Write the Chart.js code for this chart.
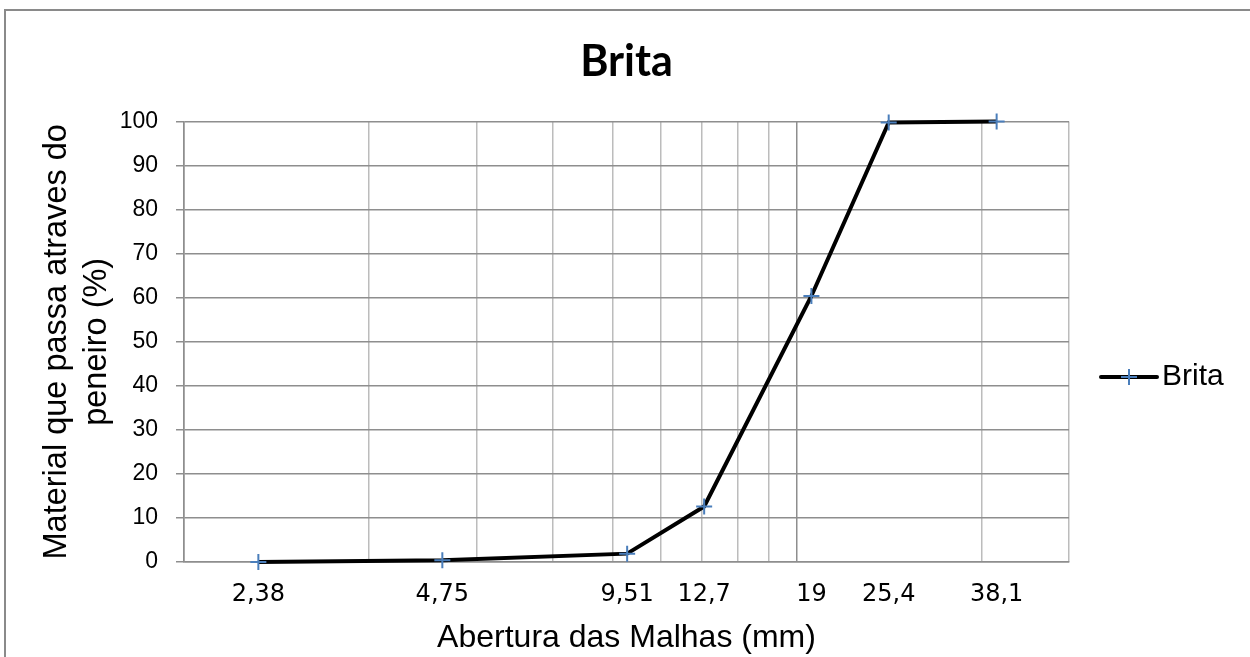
<!DOCTYPE html>
<html>
<head>
<meta charset="utf-8">
<title>Brita</title>
<script src="https://cdn.jsdelivr.net/npm/chart.js@4/dist/chart.umd.min.js"></script>
<style>
  html, body { margin: 0; padding: 0; background: #ffffff; }
  #wrap { position: relative; width: 1250px; height: 657px; overflow: hidden; }
  canvas { display: block; }
</style>
</head>
<body>
<div id="wrap"><canvas id="chart" width="1250" height="657"></canvas></div>
<script>
// Granulometric curve of the coarse aggregate (brita)
const seriesName = 'Brita';
const sieveOpenings = [2.38, 4.75, 9.51, 12.7, 19, 25.4, 38.1];      // mm
const sieveLabels = ['2,38', '4,75', '9,51', '12,7', '19', '25,4', '38,1'];
const percentPassing = [0, 0.4, 1.9, 12.6, 60.4, 99.8, 100];          // %

// Logarithmic axis: range and gridline positions
const xMin = 1.8;
const xMax = 50;
const gridValues = [1.8, 3.6, 5.4, 7.2, 9, 10.8, 12.6, 14.4, 16.2, 18, 36, 50];
const majorGridValues = [1.8, 18];
const yMin = 0, yMax = 100, yStep = 10;

const titleText = 'Brita';
const xTitle = 'Abertura das Malhas (mm)';
const yTitle = ['Material que passa atraves do', 'peneiro (%)'];

const DARK_GRID = '#8e8e8e';
const LIGHT_GRID = '#bcbcbc';
const MARKER_BLUE = '#4a7ebb';
const SANS = "'Liberation Sans', Arial, sans-serif";

const points = sieveOpenings.map((x, i) => ({ x: x, y: percentPassing[i] }));
const labelSet = new Set(sieveOpenings);
const labelOf = new Map(sieveOpenings.map((v, i) => [v, sieveLabels[i]]));

// Outer frame of the chart object
const chartFrame = {
  id: 'chartFrame',
  beforeDraw(chart, args, opts) {
    const ctx = chart.ctx;
    ctx.save();
    ctx.strokeStyle = opts.color;
    ctx.lineWidth = opts.width;
    ctx.beginPath();
    ctx.moveTo(opts.left, chart.height + 5);
    ctx.lineTo(opts.left, opts.top);
    ctx.lineTo(chart.width + 5, opts.top);
    ctx.stroke();
    ctx.restore();
  }
};

// Legend entry: line sample with the series marker, then the series name
const lineLegend = {
  id: 'lineLegend',
  afterDraw(chart, args, opts) {
    const ds = chart.data.datasets[0];
    const ctx = chart.ctx;
    const x0 = opts.x, y = opts.y, len = opts.length;
    ctx.save();
    ctx.strokeStyle = ds.borderColor;
    ctx.lineWidth = ds.borderWidth;
    ctx.lineCap = 'round';
    ctx.beginPath();
    ctx.moveTo(x0, y);
    ctx.lineTo(x0 + len, y);
    ctx.stroke();
    const cx = x0 + len / 2, r = ds.pointRadius;
    ctx.strokeStyle = ds.pointBorderColor;
    ctx.lineWidth = ds.pointBorderWidth;
    ctx.lineCap = 'butt';
    ctx.beginPath();
    ctx.moveTo(cx - r, y); ctx.lineTo(cx + r, y);
    ctx.moveTo(cx, y - r); ctx.lineTo(cx, y + r);
    ctx.stroke();
    ctx.fillStyle = opts.color;
    ctx.font = opts.font;
    ctx.textAlign = 'left';
    ctx.textBaseline = 'middle';
    ctx.fillText(ds.label, x0 + len + opts.gap, y);
    ctx.restore();
  }
};

new Chart(document.getElementById('chart'), {
  type: 'line',
  data: {
    datasets: [{
      label: seriesName,
      data: points,
      borderColor: '#000000',
      borderWidth: 4,
      tension: 0,
      fill: false,
      clip: false,
      pointStyle: 'cross',
      pointRadius: 8,
      pointHoverRadius: 8,
      pointBorderColor: MARKER_BLUE,
      pointBorderWidth: 2,
      pointBackgroundColor: MARKER_BLUE
    }]
  },
  options: {
    responsive: false,
    devicePixelRatio: 1,
    animation: false,
    events: [],
    layout: { padding: { left: 0, top: 0, right: 181, bottom: 0 } },
    plugins: {
      legend: { display: false },
      tooltip: { enabled: false },
      title: {
        display: true,
        text: titleText,
        fullSize: false,
        color: '#000000',
        font: { family: "Lato, 'Open Sans', sans-serif", size: 43, weight: 'bold', lineHeight: 1.2 },
        padding: { top: 36, bottom: 34 }
      },
      chartFrame: { left: 5, top: 10, width: 2, color: '#8a8a8a' },
      lineLegend: { x: 1101, y: 377, length: 56, gap: 5, color: '#000000', font: "30px " + SANS }
    },
    scales: {
      x: {
        type: 'logarithmic',
        min: xMin,
        max: xMax,
        afterBuildTicks(scale) {
          const values = gridValues.concat(sieveOpenings).sort((a, b) => a - b);
          scale.ticks = values.map(v => ({ value: v }));
        },
        afterFit(scale) { scale.height = 95; },
        grid: {
          display: true,
          drawTicks: false,
          color(ctx) {
            const v = ctx.tick && ctx.tick.value;
            if (labelSet.has(v)) return 'rgba(0,0,0,0)';
            return majorGridValues.includes(v) ? DARK_GRID : LIGHT_GRID;
          },
          lineWidth: 1.5
        },
        border: { display: true, color: DARK_GRID, width: 1.5 },
        ticks: {
          autoSkip: false,
          maxRotation: 0,
          minRotation: 0,
          padding: 18,
          color: '#000000',
          font: { family: "'DejaVu Sans', sans-serif", size: 24 },
          callback(value) { return labelOf.has(value) ? labelOf.get(value) : ''; }
        },
        title: {
          display: true,
          text: xTitle,
          color: '#000000',
          font: { family: SANS, size: 32, lineHeight: 1.2 },
          padding: { top: 0, bottom: 0 }
        }
      },
      y: {
        type: 'linear',
        min: yMin,
        max: yMax,
        afterFit(scale) { scale.width = 184; },
        grid: { color: DARK_GRID, lineWidth: 1.5, tickLength: 8, drawTicks: true },
        border: { display: true, color: DARK_GRID, width: 1.5 },
        ticks: {
          stepSize: yStep,
          padding: 18,
          color: '#000000',
          font: { family: SANS, size: 23 }
        },
        title: {
          display: true,
          text: yTitle,
          color: '#000000',
          font: { family: SANS, size: 32.5, lineHeight: 1.23 },
          padding: { top: 37, bottom: 0 }
        }
      }
    }
  },
  plugins: [chartFrame, lineLegend]
});
</script>
</body>
</html>
